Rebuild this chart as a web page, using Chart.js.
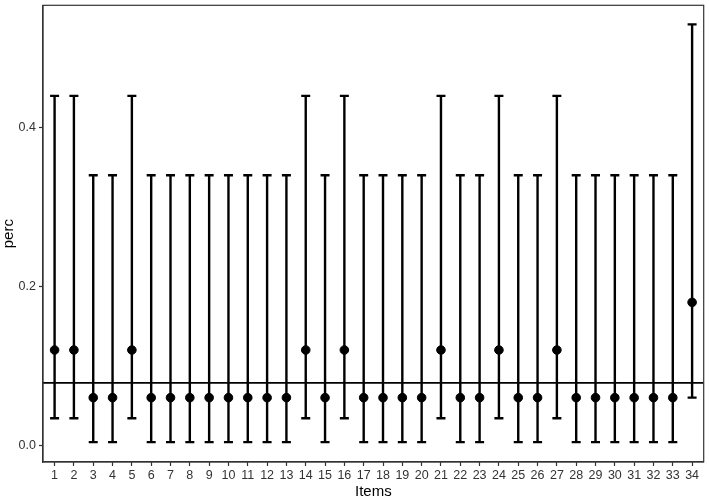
<!DOCTYPE html>
<html><head><meta charset="utf-8">
<script src="https://cdn.jsdelivr.net/npm/chart.js@4/dist/chart.umd.min.js"></script>
<style>html,body{margin:0;padding:0;background:#fff}#w{width:709px;height:501px}</style>
</head><body><div id="w"><canvas id="c"></canvas></div>
<script>
const items = [1,2,3,4,5,6,7,8,9,10,11,12,13,14,15,16,17,18,19,20,21,22,23,24,25,26,27,28,29,30,31,32,33,34];
const perc = [0.12,0.12,0.06,0.06,0.12,0.06,0.06,0.06,0.06,0.06,0.06,0.06,0.06,0.12,0.06,0.12,0.06,0.06,0.06,0.06,0.12,0.06,0.06,0.12,0.06,0.06,0.12,0.06,0.06,0.06,0.06,0.06,0.06,0.18];
const lower = [0.034,0.034,0.004,0.004,0.034,0.004,0.004,0.004,0.004,0.004,0.004,0.004,0.004,0.034,0.004,0.034,0.004,0.004,0.004,0.004,0.034,0.004,0.004,0.034,0.004,0.004,0.034,0.004,0.004,0.004,0.004,0.004,0.004,0.06];
const upper = [0.44,0.44,0.34,0.34,0.44,0.34,0.34,0.34,0.34,0.34,0.34,0.34,0.34,0.44,0.34,0.44,0.34,0.34,0.34,0.34,0.44,0.34,0.34,0.44,0.34,0.34,0.44,0.34,0.34,0.34,0.34,0.34,0.34,0.53];
const meanLine = 0.0786;
const yTicks = [0.0,0.2,0.4];

const errorBars = {
  id:'errorBars',
  beforeDatasetsDraw(chart){
    const {ctx, scales:{x,y}} = chart;
    ctx.save();
    ctx.strokeStyle='#000'; ctx.lineWidth=2.4; ctx.lineCap='butt';
    items.forEach((it,i)=>{
      const px=x.getPixelForValue(it), pl=y.getPixelForValue(lower[i]), pu=y.getPixelForValue(upper[i]);
      ctx.beginPath(); ctx.moveTo(px,pl); ctx.lineTo(px,pu); ctx.stroke();
      ctx.beginPath(); ctx.moveTo(px-4.5,pl); ctx.lineTo(px+4.5,pl); ctx.moveTo(px-4.5,pu); ctx.lineTo(px+4.5,pu); ctx.stroke();
    });
    ctx.restore();
  },
  afterDraw(chart){
    const {ctx, chartArea:a} = chart;
    ctx.save(); ctx.strokeStyle='#333'; ctx.lineWidth=1.2;
    ctx.strokeRect(a.left,a.top,a.right-a.left,a.bottom-a.top);
    ctx.restore();
  }
};

new Chart(document.getElementById('c'),{
  type:'scatter',
  data:{datasets:[
    {type:'line',data:[{x:0.4,y:meanLine},{x:34.6,y:meanLine}],borderColor:'#000',borderWidth:1.8,pointRadius:0,order:2},
    {data:items.map((it,i)=>({x:it,y:perc[i]})),backgroundColor:'#000',borderColor:'#000',pointRadius:4.3,pointHoverRadius:4.3,order:1}
  ]},
  options:{
    responsive:true,maintainAspectRatio:false,animation:false,
    layout:{padding:{top:0,right:3,left:0,bottom:0}},
    plugins:{legend:{display:false},tooltip:{enabled:false}},
    scales:{
      x:{type:'linear',min:0.4,max:34.6,
        afterBuildTicks(s){s.ticks=items.map(v=>({value:v}));},
        afterFit(s){s.height=39;s.paddingLeft=0;s.paddingRight=0;},
        ticks:{autoSkip:false,maxRotation:0,color:'#333',font:{family:'Liberation Sans',size:12.5},padding:2,callback:v=>String(v)},
        grid:{drawOnChartArea:false,tickLength:4,color:'#333',tickWidth:1.2},
        border:{display:true,color:'#333',width:1.2},
        title:{display:true,text:'Items',color:'#000',font:{family:'Liberation Sans',size:15},padding:{top:0,bottom:0}}
      },
      y:{min:-0.021,max:0.554,
        afterBuildTicks(s){s.ticks=yTicks.map(v=>({value:v}));},
        afterFit(s){s.width=43;s.paddingTop=0;s.paddingBottom=0;},
        ticks:{color:'#333',font:{family:'Liberation Sans',size:12.5},padding:3,callback:v=>v.toFixed(1)},
        grid:{drawOnChartArea:false,tickLength:4,color:'#333',tickWidth:1.2},
        border:{display:true,color:'#333',width:1.2},
        title:{display:true,text:'perc',color:'#000',font:{family:'Liberation Sans',size:15},padding:{top:0,bottom:2}}
      }
    }
  },
  plugins:[errorBars]
});
</script></body></html>
